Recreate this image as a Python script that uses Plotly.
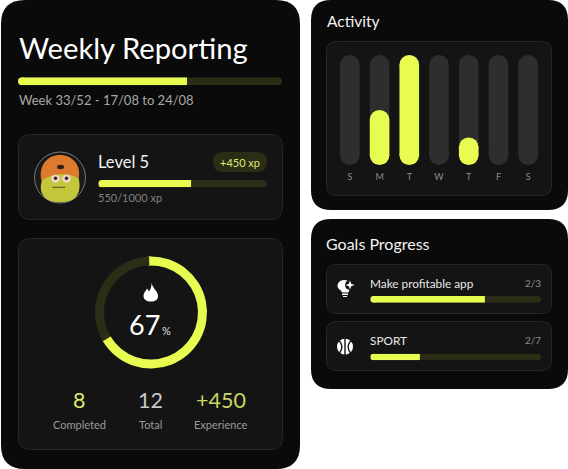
import numpy as np
import plotly.graph_objects as go

W, H = 568, 469
FONT = "Lato"
LIME = "#e8fb50"
TRACK = "#2b2d16"
CARD = "#141414"
PANEL = "#0a0a0a"
EDGE = "#262626"

# data
day_labels = ["S", "M", "T", "W", "T", "F", "S"]
day_full = [100, 100, 100, 100, 100, 100, 100]
day_activity = [0, 50, 100, 0, 25, 0, 0]
week_progress = 64
level_progress = 55
goal_names = ["Make profitable app", "SPORT"]
goal_labels = ["2/3", "2/7"]
goal_progress = [67, 29]
ring_percent = 67
stat_values = ["8", "12", "+450"]
stat_labels = ["Completed", "Total", "Experience"]


def rounded(x0, y0, x1, y1, r):
    """rounded rectangle as an svg path, plotly shapes have no arc command"""
    return (
        f"M{x0 + r},{y0} L{x1 - r},{y0} Q{x1},{y0} {x1},{y0 + r} "
        f"L{x1},{y1 - r} Q{x1},{y1} {x1 - r},{y1} L{x0 + r},{y1} "
        f"Q{x0},{y1} {x0},{y1 - r} L{x0},{y0 + r} Q{x0},{y0} {x0 + r},{y0} Z"
    )


def box(x0, y0, x1, y1, r, fill, edge=None, layer="below"):
    line = dict(color=edge, width=1) if edge else dict(width=0)
    return dict(type="path", path=rounded(x0, y0, x1, y1, r), fillcolor=fill,
                line=line, layer=layer, xref="x", yref="y")


def disc(cx, cy, rx, ry, fill, edge=None, width=1):
    line = dict(color=edge, width=width) if edge else dict(width=0)
    return dict(type="circle", x0=cx - rx, x1=cx + rx, y0=cy - ry, y1=cy + ry,
                fillcolor=fill, line=line, layer="above", xref="x", yref="y")


def blob(path, fill):
    return dict(type="path", path=path, fillcolor=fill, line=dict(width=0),
                layer="above", xref="x", yref="y")


def label(x, y, text, size, color, anchor="left"):
    return dict(x=x, y=y, text=text, showarrow=False, xanchor=anchor, yanchor="middle",
                xref="x", yref="y", font=dict(family=FONT, size=size, color=color))


fig = go.Figure()

# pixel axes that carry the cards, texts and icons
fig.add_trace(go.Scatter(x=[], y=[], hoverinfo="skip", showlegend=False))
fig.update_layout(
    xaxis=dict(range=[0, W], domain=[0, 1], visible=False, fixedrange=True),
    yaxis=dict(range=[H, 0], domain=[0, 1], visible=False, fixedrange=True),
)

axis_count = 1


def pixel_axes(x0, x1, y0, y1, x_range, y_range):
    """adds an axis pair that sits on a pixel box and returns its trace refs"""
    global axis_count
    axis_count += 1
    n = axis_count
    fig.update_layout({
        f"xaxis{n}": dict(domain=[x0 / W, x1 / W], anchor=f"y{n}", fixedrange=True,
                          visible=False, range=x_range),
        f"yaxis{n}": dict(domain=[1 - y1 / H, 1 - y0 / H], anchor=f"x{n}", fixedrange=True,
                          visible=False, range=y_range),
    })
    return f"x{n}", f"y{n}", n


def progress_layer(value, color, x0, x1, y0, y1, round_end):
    """one horizontal bar with a round start, markers make the round ends"""
    xa, ya, _ = pixel_axes(x0, x1, y0, y1, [0, 100], [-0.5, 0.5])
    cap = 100 * (y1 - y0) / 2 / (x1 - x0)
    caps = [cap, value - cap] if round_end else [cap]
    end = value - cap if round_end else value
    fig.add_trace(go.Bar(x=[end - cap], base=[cap], y=[0], orientation="h", width=1,
                         xaxis=xa, yaxis=ya, marker=dict(color=color, line_width=0),
                         hoverinfo="skip", showlegend=False))
    fig.add_trace(go.Scatter(x=caps, y=[0] * len(caps), mode="markers", xaxis=xa, yaxis=ya,
                             marker=dict(color=color, size=y1 - y0, line_width=0),
                             hoverinfo="skip", showlegend=False))


def progress(value, x0, x1, y0, y1):
    progress_layer(100, TRACK, x0, x1, y0, y1, True)
    progress_layer(value, LIME, x0, x1, y0, y1, False)


progress(week_progress, 18, 282, 77.3, 85.3)
progress(level_progress, 98.3, 267, 180, 187.3)
progress(goal_progress[0], 370.3, 541.3, 296, 302.7)
progress(goal_progress[1], 370.3, 541.3, 353.7, 360.3)

# activity columns, tracks and lime fills on separate axes so they stack in order
COL_X0, COL_X1, COL_Y0, COL_Y1 = 335, 543, 55, 165
COL_WIDTH = 0.66
day_index = list(range(len(day_labels)))
col_px = COL_WIDTH * (COL_X1 - COL_X0) / len(day_labels)
col_cap = 100 * col_px / 2 / (COL_Y1 - COL_Y0)


def columns(values, color):
    xa, ya, n = pixel_axes(COL_X0, COL_X1, COL_Y0, COL_Y1, [-0.5, 6.5], [0, 100])
    days = [d for d, v in zip(day_index, values) if v > 0]
    tops = [v for v in values if v > 0]
    fig.add_trace(go.Bar(x=days, y=[v - 2 * col_cap for v in tops], base=col_cap, width=COL_WIDTH,
                         xaxis=xa, yaxis=ya, marker=dict(color=color, line_width=0),
                         hoverinfo="skip", showlegend=False))
    fig.add_trace(go.Scatter(x=days + days, y=[col_cap] * len(days) + [v - col_cap for v in tops],
                             mode="markers", xaxis=xa, yaxis=ya,
                             marker=dict(color=color, size=col_px, line_width=0),
                             hoverinfo="skip", showlegend=False))
    return n


track_axis = columns(day_full, "#2e2e2e")
fig.update_layout({
    f"xaxis{track_axis}": dict(visible=True, tickmode="array", tickvals=day_index,
                               ticktext=day_labels, showgrid=False, zeroline=False,
                               showline=False, ticks="outside", ticklen=3, tickcolor="rgba(0,0,0,0)",
                               tickfont=dict(family=FONT, size=9, color="#8c8c8c")),
})
columns(day_activity, LIME)

# ring
ring_cx, ring_cy, ring_r, ring_w = 151, 312.5, 56, 9
ring_start = -2
fig.add_trace(go.Pie(
    values=[ring_percent, 100 - ring_percent], sort=False, direction="clockwise",
    rotation=ring_start, hole=(ring_r - ring_w) / ring_r, textinfo="none", hoverinfo="skip",
    marker=dict(colors=[LIME, TRACK], line_width=0), showlegend=False,
    domain=dict(x=[(ring_cx - ring_r) / W, (ring_cx + ring_r) / W],
                y=[1 - (ring_cy + ring_r) / H, 1 - (ring_cy - ring_r) / H]),
))
cap_angles = np.radians([ring_start, ring_start + ring_percent * 3.6])
cap_r = ring_r - ring_w / 2
fig.add_trace(go.Scatter(
    x=ring_cx + cap_r * np.sin(cap_angles), y=ring_cy - cap_r * np.cos(cap_angles), mode="markers",
    marker=dict(color=LIME, size=ring_w, line_width=0), hoverinfo="skip", showlegend=False,
))

shapes = [
    box(1, 0, 300, 469, 24, PANEL),
    box(311, 0, 568, 210, 20, PANEL),
    box(311, 219, 568, 389, 20, PANEL),
    box(18.5, 134.5, 282.5, 219.5, 12, CARD, EDGE),
    box(18.5, 238.5, 282.5, 449.5, 12, CARD, EDGE),
    box(326.5, 41.5, 551.5, 195.5, 10, CARD, EDGE),
    box(326.5, 264.5, 551.5, 313.5, 10, CARD, EDGE),
    box(326.5, 321.5, 551.5, 370.5, 10, CARD, EDGE),
    box(213, 152, 267, 172, 10, TRACK),
    # avatar
    disc(60, 177.5, 25.5, 25.5, "#1a1a1a", "#7a7a7a", 1),
    blob("M43,178 C44,172 76,172 78,176 C82,188 78,197 72,200 C65,203 54,203 48,200 "
         "C42,197 38,188 43,178 Z", "#c4c63c"),
    blob("M41.5,181 C38,165 48,155 60,155 C72,155 82,165 78.5,179 C72,172 50,173 41.5,181 Z", "#dd7a2c"),
    disc(60.5, 167, 3.5, 2.2, "#2f2018"),
    disc(55.5, 178.7, 4.3, 4, "#f0d8d0"),
    disc(66.5, 178.7, 4.3, 4, "#f0d8d0"),
    disc(55.5, 178.2, 1.7, 1.7, "#3a1820"),
    disc(66.5, 178.2, 1.7, 1.7, "#3a1820"),
    blob("M52.5,186.8 L65,186.8 L65,187.8 L52.5,187.8 Z", "#4c4a18"),
    # flame
    blob("M151.5,283 C153,289 158,291 158,296 C158,300 155,301.5 151,301.5 "
         "C146.5,301.5 143.5,299.5 143.5,296 C143.5,292.5 146,291 147,288.5 "
         "C148,289.5 148.5,290.5 149,291.5 C151,289 151.5,286 151.5,283 Z", "#ffffff"),
    # bulb
    blob("M344,280 C349,280 351,283 351,286 C351,289 349,290 348.5,292.5 L342,292.5 "
         "C341.5,290 337.5,289 337.5,286 C337.5,283 340,280 344,280 Z", "#ffffff"),
    blob("M342,293.5 L348,293.5 L348,295 L342,295 Z", "#ffffff"),
    blob("M343,296 L347,296 L347,297 L343,297 Z", "#ffffff"),
    disc(350, 285, 5, 5, CARD),
    blob("M350,280.5 L351.2,283.8 L354.5,285 L351.2,286.2 L350,289.5 L348.8,286.2 "
         "L345.5,285 L348.8,283.8 Z", "#ffffff"),
    # ball
    disc(345, 346.7, 8, 8, "#ffffff"),
    blob("M344.3,338 L345.7,338 L345.7,355.4 L344.3,355.4 Z", CARD),
    blob("M338.5,341 C342,345 342,349 338.5,353 L339.5,354 C343.5,349 343.5,345 339.5,340 Z", CARD),
    blob("M351.5,341 C348,345 348,349 351.5,353 L350.5,354 C346.5,349 346.5,345 350.5,340 Z", CARD),
]

annotations = [
    label(17, 47, "Weekly Reporting", 29.2, "#ffffff"),
    label(17, 100, "Week 33/52 - 17/08 to 24/08", 13, "#a8a8a8"),
    label(96, 162, "Level 5", 16.5, "#f2f2f2"),
    label(240, 162, "+450 xp", 11, "#dfe96e", "center"),
    label(96, 197, "550/1000 xp", 11, "#808080"),
    label(127, 324, "67", 27, "#ffffff"),
    label(160, 330, "%", 11, "#e0e0e0"),
    label(324.5, 21, "Activity", 15.5, "#f2f2f2"),
    label(324, 243.5, "Goals Progress", 16, "#f2f2f2"),
]
for name, tally, y in zip(goal_names, goal_labels, [283, 340]):
    annotations.append(label(368, y, name, 11.8, "#e8e8e8"))
    annotations.append(label(543, y, tally, 10, "#8c8c8c", "right"))
for value, name, x, color in zip(stat_values, stat_labels, [79, 150.5, 221],
                                 ["#dfe96e", "#c8c8c8", "#c9d664"]):
    annotations.append(label(x, 400, value, 21.5, color, "center"))
    annotations.append(label(x, 424, name, 11, "#9a9a9a", "center"))

fig.update_layout(
    width=W, height=H, margin=dict(l=0, r=0, t=0, b=0), autosize=False,
    paper_bgcolor="#ffffff", plot_bgcolor="rgba(0,0,0,0)", barmode="overlay",
    shapes=shapes, annotations=annotations, showlegend=False, font=dict(family=FONT),
)

fig.write_html("out.html", config=dict(displayModeBar=False),
               post_script="document.body.style.margin='0';document.body.style.overflow='hidden';")
